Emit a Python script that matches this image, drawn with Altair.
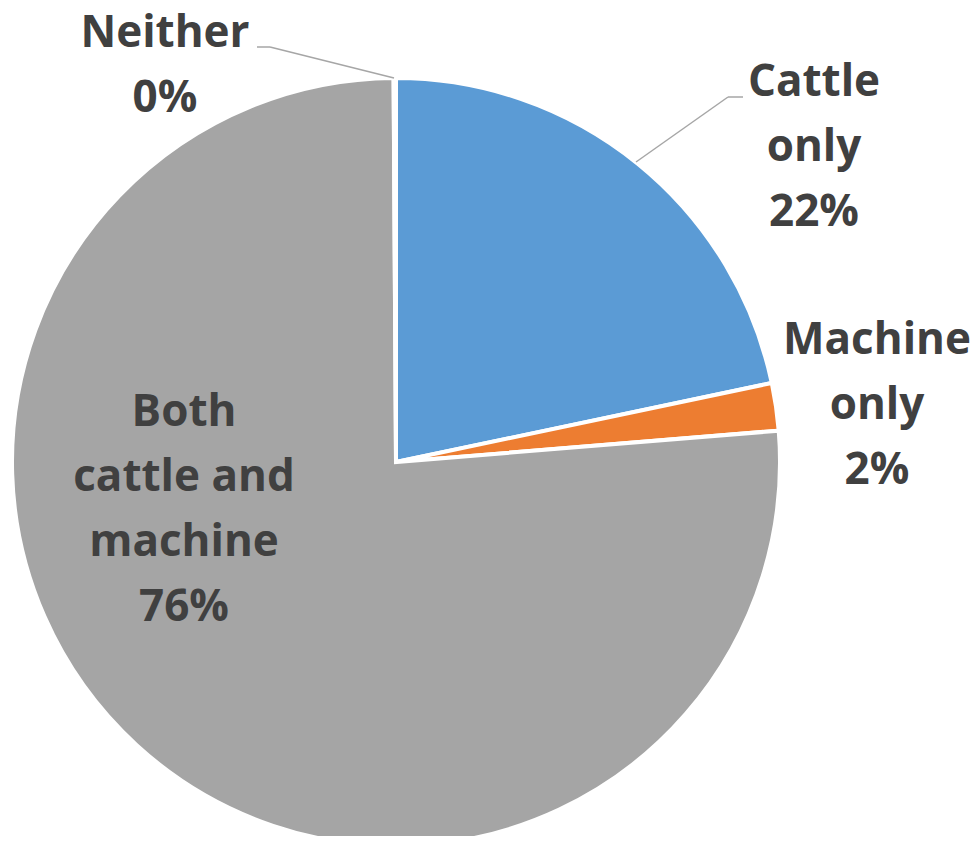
import altair as alt
import pandas as pd

categories = ["Cattle only", "Machine only", "Both cattle and machine", "Neither"]
values = [21.7, 2.0, 76.2, 0.1]
labels = ["Cattle\nonly\n22%", "Machine\nonly\n2%", "Both\ncattle and\nmachine\n76%", "Neither\n0%"]
colors = ["#5B9BD5", "#ED7D31", "#A5A5A5", "#FFC000"]

df = pd.DataFrame({"category": categories, "value": values, "order": list(range(len(categories)))})

W, H = 962, 828
CX, CY, R = 388, 454, 384

pie = alt.Chart(df).mark_arc(radius=R, stroke="white", strokeWidth=4).encode(
    theta=alt.Theta("value:Q", stack=True),
    color=alt.Color("category:N", scale=alt.Scale(domain=categories, range=colors), legend=None),
    order=alt.Order("order:Q"),
    x=alt.value(CX),
    y=alt.value(CY),
)

label_pos = {
    "Cattle only": (806, 75),
    "Machine only": (869, 333),
    "Both cattle and machine": (176, 405),
    "Neither": (157, 26),
}

layers = [pie]

# leader lines
segments = [
    ((249, 39), (262, 39)),
    ((262, 39), (386, 70)),
    ((735, 89), (720, 89)),
    ((720, 89), (628, 154)),
]
for (x1, y1), (x2, y2) in segments:
    layers.append(
        alt.Chart(df.head(1)).mark_rule(color="#A6A6A6", strokeWidth=1.5).encode(
            x=alt.value(x1), y=alt.value(y1), x2=alt.value(x2), y2=alt.value(y2)
        )
    )

for cat, lab in zip(categories, labels):
    x, y = label_pos[cat]
    layers.append(
        alt.Chart(pd.DataFrame({"t": [lab.split("\n")]})).mark_text(
            font="Open Sans", fontWeight="bold", fontSize=44, color="#404040",
            align="center", baseline="middle", lineHeight=65,
        ).encode(text="t", x=alt.value(x), y=alt.value(y))
    )

chart = alt.layer(*layers).properties(
    width=W, height=H, padding=0, autosize=alt.AutoSizeParams(type="none")
).configure_view(stroke=None)

chart.save("out.html", embed_options={"renderer": "svg", "actions": False})
